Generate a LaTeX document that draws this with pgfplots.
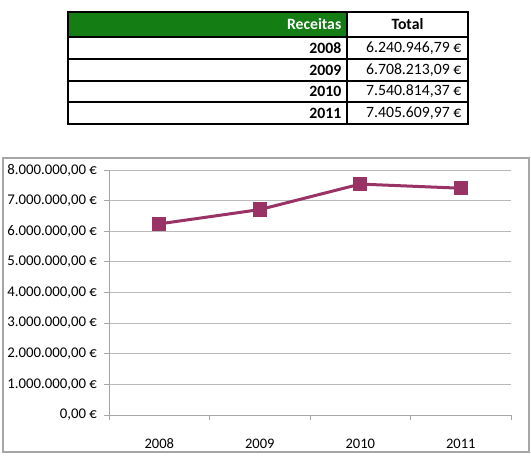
\documentclass[border=0pt]{standalone}
\usepackage{pgfplots}
\pgfplotsset{compat=1.18}
\usepackage{fontspec}
\setmainfont{Carlito}
\definecolor{linec}{RGB}{153,51,102}
\definecolor{hdr}{RGB}{20,125,20}
\begin{document}
\begin{tikzpicture}[x=0.75pt,y=-0.75pt]
\path (0,0) rectangle (531,455);
% table
\fill[hdr] (68,12) rectangle (347,37);
\foreach \yy in {37,59,81,102} \draw[line width=0.9pt] (68,\yy) -- (468,\yy);
\draw[line width=0.9pt] (347,12) -- (347,124);
\draw[line width=1.1pt] (68,12) rectangle (468,124);
\node[anchor=east, text=white, font=\bfseries\fontsize{11.8}{14}\selectfont] at (346,24.5) {Receitas};
\node[font=\bfseries\fontsize{11.8}{14}\selectfont] at (407.5,24.5) {Total};
\foreach \yr/\val/\yy in {2008/{6.240.946,79 €}/48, 2009/{6.708.213,09 €}/70, 2010/{7.540.814,37 €}/91.5, 2011/{7.405.609,97 €}/113}{
  \node[anchor=east, font=\bfseries\fontsize{11.8}{14}\selectfont] at (346,\yy) {\yr};
  \node[anchor=east, font=\fontsize{11.8}{14}\selectfont] at (466,\yy) {\val};
}
% chart border
\draw[gray!70, line width=0.8pt] (3,158) rectangle (529,452);
\begin{axis}[
  at={(81.75pt,-311.25pt)}, anchor=south west,
  scale only axis, width=301.5pt, height=183.75pt,
  xmin=0, xmax=4, ymin=0, ymax=8000000,
  axis x line=bottom, axis y line=left,
  axis line style={-, gray!70, line width=0.6pt},
  ytick={0,1000000,2000000,3000000,4000000,5000000,6000000,7000000,8000000},
  yticklabels={{0,00 €},{1.000.000,00 €},{2.000.000,00 €},{3.000.000,00 €},{4.000.000,00 €},{5.000.000,00 €},{6.000.000,00 €},{7.000.000,00 €},{8.000.000,00 €}},
  scaled y ticks=false,
  ymajorgrids, grid style={gray!55, line width=0.6pt},
  xtick={0.5,1.5,2.5,3.5}, xticklabels={2008,2009,2010,2011},
  minor xtick={0,1,2,3,4},
  tick align=outside,
  major tick length=4pt, minor tick length=4pt,
  major x tick style={draw=none},
  every tick/.style={gray!70, line width=0.6pt},
  minor x tick style={gray!70, line width=0.6pt},
  x tick label style={font=\fontsize{10.9}{12}\selectfont, yshift=-10.5pt},
  y tick label style={font=\fontsize{11.1}{13}\selectfont, xshift=-1.5pt},
]
\addplot[color=linec, line width=2.25pt, mark=square*, mark size=4.3pt, mark options={solid}] coordinates {
  (0.5,6240946.79) (1.5,6708213.09) (2.5,7540814.37) (3.5,7405609.97)
};
\end{axis}
\end{tikzpicture}
\end{document}
